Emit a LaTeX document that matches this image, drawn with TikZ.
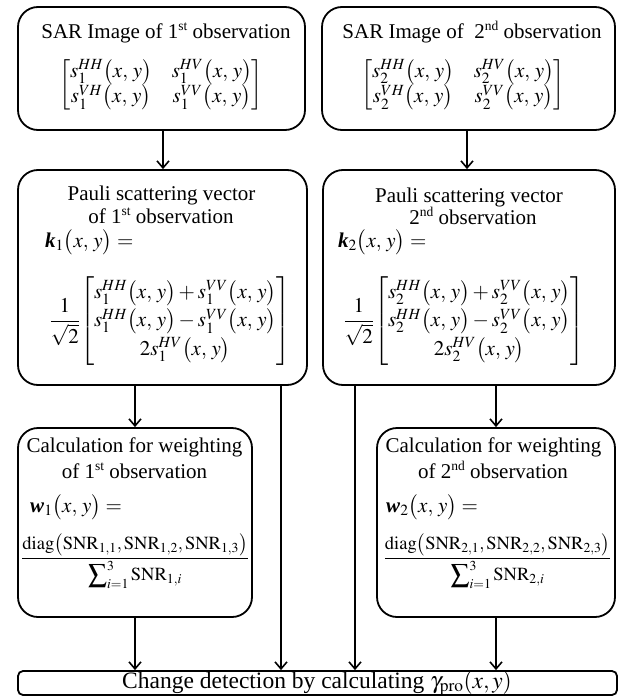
\documentclass[tikz,border=0pt]{standalone}
\usepackage{amsmath}
\usepackage{mathptmx}
\usepackage[no-math]{fontspec}
\setmainfont{Liberation Serif}
\usetikzlibrary{arrows.meta}
\newcommand{\bk}{\textbf{\textit{k}}}
\newcommand{\bw}{\textbf{\textit{w}}}
\newcommand{\snr}{\mathrm{SNR}}
\newcommand{\xy}{\bigl(x,\,y\bigr)}
\newcommand{\ordsup}[1]{\raisebox{0.36em}{\fontsize{13.5}{14}\selectfont #1}}
\begin{document}
\begin{tikzpicture}[x=1pt,y=-1pt,
  box/.style={draw,line width=1.8pt,rounded corners=20pt,inner sep=0pt},
  barbox/.style={draw,line width=1.8pt,rounded corners=5pt,inner sep=0pt},
  tx/.style={font=\fontsize{21}{25}\selectfont,inner sep=0pt},
  mtx/.style={font=\fontsize{21}{24}\selectfont,inner sep=0pt},
  ptx/.style={font=\fontsize{21}{26}\selectfont,inner sep=0pt},
  ftx/.style={font=\fontsize{18.5}{22}\selectfont,inner sep=0pt},
  arr/.style={line width=1.6pt,-{Straight Barb[length=7pt,width=12pt,line width=1.6pt]}},
  ln/.style={line width=1.6pt}]
\useasboundingbox (0,0) rectangle (619,696);
% boxes
\node[box,minimum width=287pt,minimum height=123pt] (b1) at (161.5,68.5) {};
\node[box,minimum width=293pt,minimum height=123pt] (b2) at (468.5,68.5) {};
\node[box,minimum width=289pt,minimum height=215pt] (b3) at (162.5,277.5) {};
\node[box,minimum width=292pt,minimum height=215pt] (b4) at (469,277.5) {};
\node[box,minimum width=234pt,minimum height=189pt] (b5) at (135,522.5) {};
\node[box,minimum width=238pt,minimum height=189pt] (b6) at (496,522.5) {};
\node[barbox,minimum width=599pt,minimum height=24pt] (bar) at (317.5,683) {};
% box 1
\node[tx,anchor=base] (t1) at (166,38) {SAR Image of 1\ordsup{st} observation};
\node[mtx] (m1) at (161,85) {$\setlength\arraycolsep{10pt}\renewcommand\arraystretch{1.06}\begin{bmatrix} s_1^{HH}\xy & s_1^{HV}\xy\\ s_1^{VH}\xy & s_1^{VV}\xy\end{bmatrix}$};
% box 2
\node[tx,anchor=base] (t2) at (472,38) {SAR Image of\ \ 2\ordsup{nd} observation};
\node[mtx] (m2) at (463,85) {$\setlength\arraycolsep{10pt}\renewcommand\arraystretch{1.06}\begin{bmatrix} s_2^{HH}\xy & s_2^{HV}\xy\\ s_2^{VH}\xy & s_2^{VV}\xy\end{bmatrix}$};
% box 3
\node[tx,anchor=base] (t3a) at (161.5,200) {Pauli scattering vector};
\node[tx,anchor=base] (t3b) at (161,223) {of 1\ordsup{st} observation};
\node[ptx,anchor=west] (k1) at (45,242) {$\bk_1\xy=$};
\node[ptx] (p1) at (170,321) {$\dfrac{1}{\sqrt{2}}\!\renewcommand\arraystretch{1.1}\begin{bmatrix} s_1^{HH}\xy+s_1^{VV}\xy\\ s_1^{HH}\xy-s_1^{VV}\xy\\ 2s_1^{HV}\xy\end{bmatrix}$};
% box 4
\node[tx,anchor=base] (t4a) at (469,202) {Pauli scattering vector};
\node[tx,anchor=base] (t4b) at (473,224) {2\ordsup{nd} observation};
\node[ptx,anchor=west] (k2) at (338,242) {$\bk_2\xy=$};
\node[ptx] (p2) at (464,321) {$\dfrac{1}{\sqrt{2}}\!\renewcommand\arraystretch{1.1}\begin{bmatrix} s_2^{HH}\xy+s_2^{VV}\xy\\ s_2^{HH}\xy-s_2^{VV}\xy\\ 2s_2^{HV}\xy\end{bmatrix}$};
% box 5
\node[tx,anchor=base] (t5a) at (134.5,452) {Calculation for weighting};
\node[tx,anchor=base] (t5b) at (134.5,478) {of 1\ordsup{st} observation};
\node[ptx,anchor=west] (w1) at (30,507) {$\bw_1\xy=$};
\node[ftx] (f1) at (135,561) {$\dfrac{\mathrm{diag}\bigl(\snr_{1,1},\snr_{1,2},\snr_{1,3}\bigr)}{\displaystyle\sum\nolimits_{i=1}^{3}\snr_{1,i}}$};
% box 6
\node[tx,anchor=base] (t6a) at (493.5,452) {Calculation for weighting};
\node[tx,anchor=base] (t6b) at (493,478) {of 2\ordsup{nd} observation};
\node[ptx,anchor=west] (w2) at (386,507) {$\bw_2\xy=$};
\node[ftx] (f2) at (497.5,561) {$\dfrac{\mathrm{diag}\bigl(\snr_{2,1},\snr_{2,2},\snr_{2,3}\bigr)}{\displaystyle\sum\nolimits_{i=1}^{3}\snr_{2,i}}$};
% bar
\node[font=\fontsize{23.5}{26}\selectfont,inner sep=0pt] (bt) at (317,683) {Change detection by calculating $\gamma_{\mathrm{pro}}(x,y)$};
% connector coordinates
\coordinate (c1) at (281,0);
\coordinate (c2) at (355,0);
\coordinate (c3) at (163,0);
\coordinate (c4) at (467,0);
% connectors
\draw[arr] (b1.south -| c3) -- (b3.north -| c3);
\draw[arr] (b2.south -| c4) -- (b4.north -| c4);
\draw[arr] (b3.south -| b5.north) -- (b5.north);
\draw[arr] (b4.south -| b6.north) -- (b6.north);
\draw[arr] (b3.south -| c1) -- (bar.north -| c1);
\draw[arr] (b4.south -| c2) -- (bar.north -| c2);
\draw[arr] (b5.south) -- (bar.north -| b5.south);
\draw[arr] (b6.south) -- (bar.north -| b6.south);
\end{tikzpicture}
\end{document}
